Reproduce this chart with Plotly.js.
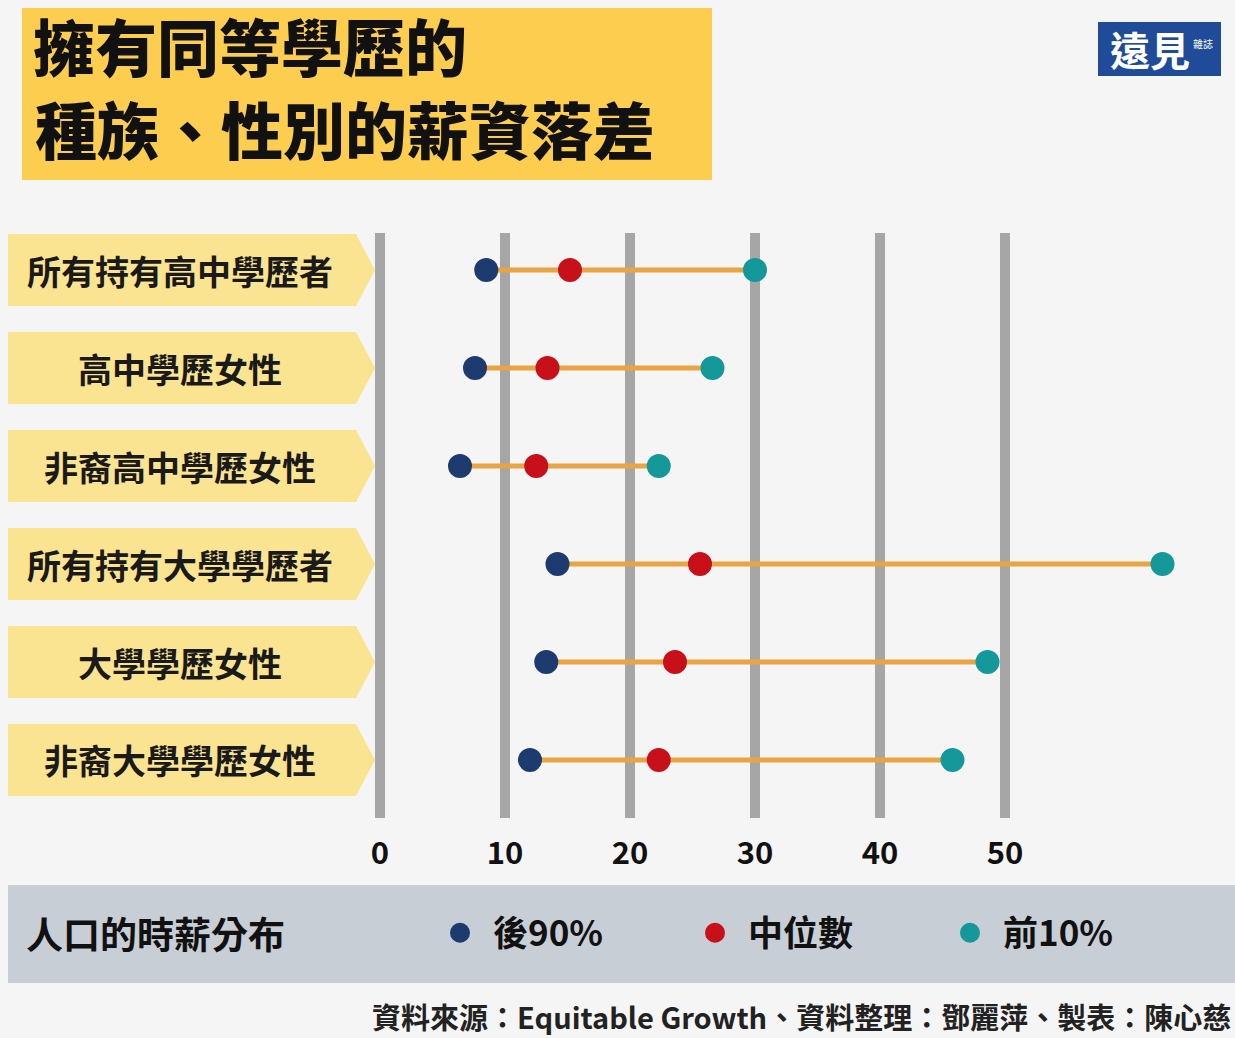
<!DOCTYPE html>
<html>
<head>
<meta charset="utf-8">
<script src="https://cdn.plot.ly/plotly-3.0.1.min.js"></script>
<style>
html,body{margin:0;padding:0;background:#f5f5f5;}
#chart{width:1235px;height:1038px;}
</style>
</head>
<body>
<div id="chart"></div>
<script>
// ---- data ----
const categories = ["所有持有高中學歷者","高中學歷女性","非裔高中學歷女性","所有持有大學學歷者","大學學歷女性","非裔大學學歷女性"];
const bottom90 = [8.5, 7.6, 6.4, 14.2, 13.3, 12.0];
const median   = [15.2, 13.4, 12.5, 25.6, 23.6, 22.3];
const top10    = [30.0, 26.6, 22.3, 62.6, 48.6, 45.8];
const seriesNames = ["後90%","中位數","前10%"];
const tickValues = [0,10,20,30,40,50];
const tickLabels = ["0","10","20","30","40","50"];
const titleLines = ["擁有同等學歷的","種族、性別的薪資落差"];
const legendTitle = "人口的時薪分布";
const sourceText = "資料來源：Equitable Growth、資料整理：鄧麗萍、製表：陳心慈";

// ---- style ----
const W = 1235, H = 1038;
const FONT = '"Noto Sans CJK TC", "Noto Sans CJK SC", "Noto Sans", sans-serif';
const colors = ["#1d3b6f", "#c8101a", "#14989a"];
const lineColor = "#eba444";
const px = v => v / W;
const py = v => 1 - v / H;

// connector line built from data
const lx = [], ly = [];
categories.forEach((c, i) => { lx.push(bottom90[i], top10[i], null); ly.push(c, c, null); });

function dotTrace(name, xs, color) {
  return {type:'scatter', mode:'markers', name:name, x:xs, y:categories,
          marker:{color:color, size:20, line:{color:color, width:4}}};
}
const traces = [
  {type:'scatter', mode:'lines', x:lx, y:ly, line:{color:lineColor, width:5},
   showlegend:false, hoverinfo:'skip'},
  dotTrace(seriesNames[0], bottom90, colors[0]),
  dotTrace(seriesNames[1], median, colors[1]),
  dotTrace(seriesNames[2], top10, colors[2])
];

const shapes = [
  // title box
  {type:'rect', xref:'paper', yref:'paper', x0:px(22), x1:px(712), y0:py(180), y1:py(8),
   fillcolor:'#fccd4e', line:{width:0}, layer:'below'},
  // logo box
  {type:'rect', xref:'paper', yref:'paper', x0:px(1098), x1:px(1221), y0:py(76), y1:py(22),
   fillcolor:'#1f4b99', line:{width:0}, layer:'below'},
  // legend bar
  {type:'rect', xref:'paper', yref:'paper', x0:px(8), x1:px(1235), y0:py(983), y1:py(885),
   fillcolor:'#c8ced6', line:{width:0}, layer:'below'}
];
categories.forEach((c, i) => {
  const t = i - 0.367, b = i + 0.367;
  shapes.push({type:'path', xref:'paper', yref:'y',
    path:`M ${px(8)},${t} L ${px(356)},${t} L ${px(375)},${i} L ${px(356)},${b} L ${px(8)},${b} Z`,
    fillcolor:'#fbe491', line:{width:0}, layer:'below'});
});

const annotations = categories.map(c => ({
  xref:'paper', yref:'y', x:px(180), y:c, text:c, showarrow:false,
  xanchor:'center', yanchor:'middle',
  font:{family:FONT, size:34, color:'#1a1a1a', weight:700}
}));
annotations.push(
  {xref:'paper', yref:'paper', x:px(33), y:py(128), text:titleLines[1], showarrow:false,
   xanchor:'left', yanchor:'middle', font:{family:FONT, size:62, color:'#111111', weight:900}},
  {xref:'paper', yref:'paper', x:px(24), y:py(933), text:legendTitle, showarrow:false,
   xanchor:'left', yanchor:'middle', font:{family:FONT, size:37, color:'#111', weight:700}},
  {xref:'paper', yref:'paper', x:px(1233), y:py(1016), text:sourceText, showarrow:false,
   xanchor:'right', yanchor:'middle', font:{family:FONT, size:29, color:'#222', weight:700}},
  {xref:'paper', yref:'paper', x:px(1150), y:py(49), text:'遠見', showarrow:false,
   xanchor:'center', yanchor:'middle', font:{family:FONT, size:40, color:'#ffffff', weight:700}},
  {xref:'paper', yref:'paper', x:px(1203), y:py(43), text:'雜誌', showarrow:false,
   xanchor:'center', yanchor:'middle', font:{family:FONT, size:10, color:'#ffffff'}}
);

const layout = {
  width:W, height:H,
  margin:{l:0, r:0, t:0, b:0, pad:0},
  paper_bgcolor:'#f5f5f5',
  plot_bgcolor:'rgba(0,0,0,0)',
  title:{text:titleLines[0], xref:'paper', x:px(33), xanchor:'left',
         yref:'container', y:py(50), yanchor:'middle',
         font:{family:FONT, size:62, color:'#111111', weight:900}},
  xaxis:{domain:[0,1], range:[-30.4, 68.4], tickmode:'array', tickvals:tickValues, ticktext:tickLabels,
         showgrid:true, gridcolor:'#a6a6a6', gridwidth:10, zeroline:false, showline:false,
         ticks:'', ticklabelstandoff:14,
         tickfont:{family:FONT, size:31, color:'#111', weight:700}, fixedrange:true},
  yaxis:{domain:[py(818), py(233)], type:'category', categoryorder:'array', categoryarray:categories,
         range:[5.592, -0.378], showgrid:false, zeroline:false, showline:false, showticklabels:false,
         ticks:'', fixedrange:true},
  showlegend:true,
  legend:{orientation:'h', x:px(427), xanchor:'left', y:py(933), yanchor:'middle',
          bgcolor:'rgba(0,0,0,0)', borderwidth:0, itemwidth:56,
          entrywidth:184, entrywidthmode:'pixels', itemsizing:'trace',
          font:{family:FONT, size:35, color:'#111', weight:700}},
  shapes:shapes,
  annotations:annotations,
  hovermode:false
};

Plotly.newPlot('chart', traces, layout, {staticPlot:true, displayModeBar:false});
</script>
</body>
</html>
